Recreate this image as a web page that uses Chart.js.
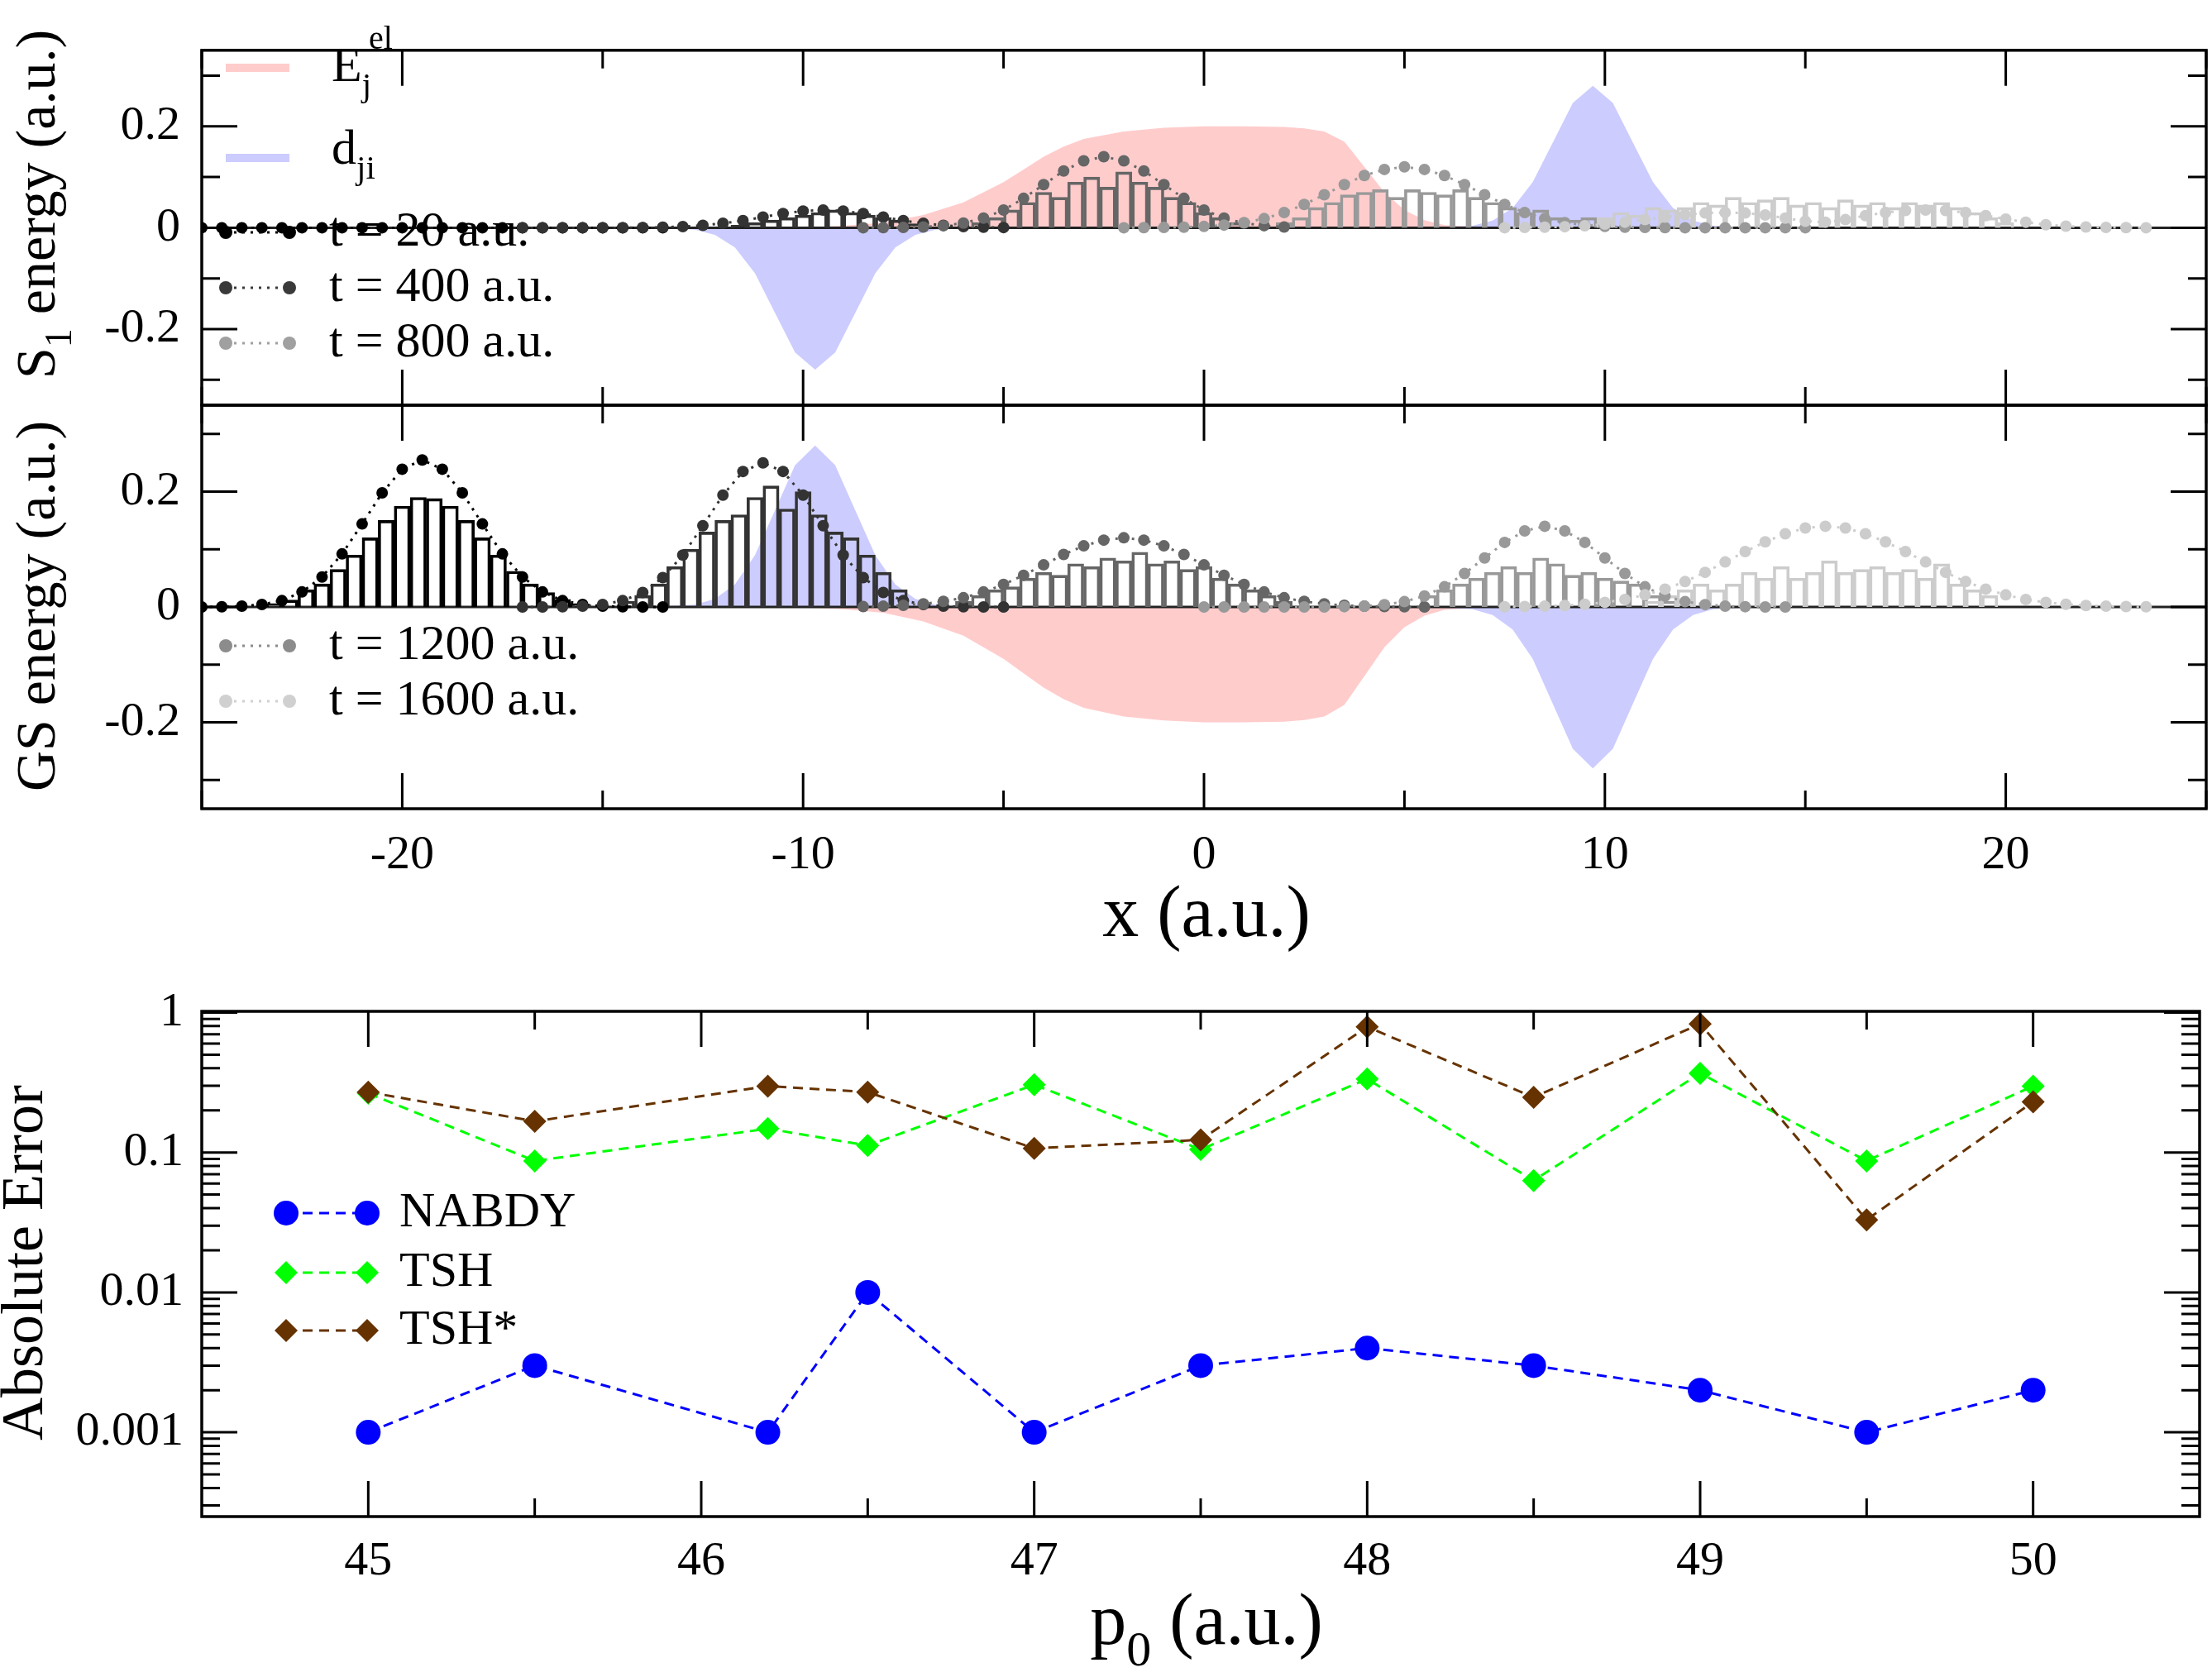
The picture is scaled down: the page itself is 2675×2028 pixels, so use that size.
<!DOCTYPE html>
<html>
<head>
<meta charset="utf-8">
<script src="https://cdn.jsdelivr.net/npm/chart.js@4.4.0/dist/chart.umd.min.js"></script>
<style>
  html, body { margin: 0; padding: 0; background: #fff; }
  #wrap { position: relative; width: 2675px; height: 2028px; }
  canvas { position: absolute; left: 0; top: 0; }
</style>
</head>
<body>
<div id="wrap">
  <canvas id="c1" width="2675" height="2028"></canvas>
  <canvas id="c2" width="2675" height="2028"></canvas>
  <canvas id="c3" width="2675" height="2028"></canvas>
</div>
<script>
// ---- panel data (x in a.u.) ----
const xTicks = [-20, -10, 0, 10, 20];
const xMinor = [-25, -15, -5, 5, 15, 25];
const yTicks = [-0.2, 0, 0.2];
const yMinor = [-0.3, -0.1, 0.1, 0.3];

// electronic energy difference (pink) and coupling (blue), S1 panel
const eX = [-25, -10, -9, -8, -7, -6, -5, -4.5, -4, -3.5, -3, -2, -1, 0, 1, 2, 2.5, 3, 3.5, 4, 4.5, 5, 5.5, 6, 7, 25];
const eY = [0, 0.001, 0.004, 0.01, 0.025, 0.05, 0.09, 0.115, 0.14, 0.16, 0.175, 0.19, 0.197, 0.2, 0.2, 0.199, 0.196, 0.19, 0.17, 0.12, 0.07, 0.035, 0.015, 0.005, 0.001, 0];
const dX = [-25, -13.7, -12.7, -12.2, -11.7, -11.2, -10.7, -10.2, -9.7, -9.2, -8.7, -8.2, -7.7, -7.2, -6.7, -5.7,
            5.7, 6.7, 7.2, 7.7, 8.2, 8.7, 9.2, 9.7, 10.2, 10.7, 11.2, 11.7, 12.2, 12.7, 13.7, 25];
const dY = [0, -0.0006, -0.004, -0.014, -0.039, -0.09, -0.168, -0.246, -0.28, -0.246, -0.168, -0.09, -0.039, -0.014, -0.004, -0.0006,
            0.0006, 0.004, 0.014, 0.039, 0.09, 0.168, 0.246, 0.28, 0.246, 0.168, 0.09, 0.039, 0.014, 0.004, 0.0006, 0];

const tColors = ["#000000", "#333333", "#666666", "#999999", "#cccccc"];
const legendColors = ["#000000", "#3a3a3a", "#a0a0a0", "#8c8c8c", "#d0d0d0"];

// S1 panel: dotted curves (start x, step 0.5) and histograms (start x, step 0.4)
const s1Start = [-25, -17, -8.5, -2, 7.5];
const s1Curve = [
  [0,0,0,0,0,0,0,0,0,0,0,0,0,0,0,0,0,0,0,0,0,0,0,0],
  [0,0,0,0,0,0,0.0004,0.001,0.0023,0.0047,0.0087,0.014,0.021,0.028,0.033,0.035,0.033,0.028,0.021,0.014,0.0087,0.0047,0.0023,0.001,0.0004],
  [0,0.0001,0.0005,0.0015,0.0041,0.0092,0.019,0.035,0.058,0.085,0.112,0.132,0.14,0.132,0.112,0.085,0.058,0.035,0.019,0.0092,0.0041,0.0015],
  [0,0.0002,0.0005,0.0011,0.0025,0.0053,0.01,0.018,0.03,0.046,0.065,0.085,0.103,0.115,0.12,0.115,0.103,0.085,0.065,0.046,0.03,0.018,0.01,0.0053,0.0025,0.0011,0.0005,0.0002,0,0,0,0,0,0,0],
  [0,0.0005,0.001,0.002,0.004,0.007,0.011,0.016,0.021,0.026,0.029,0.03,0.029,0.025,0.019,0.013,0.011,0.016,0.024,0.03,0.034,0.035,0.034,0.03,0.024,0.017,0.011,0.006,0.003,0.0015,0.0007,0.0003,0]
];
const s1HistStart = [null, -11.6, -5.6, 2, 10];
const s1Hist = [
  [],
  [0.005,0.01,0.015,0.02,0.025,0.03,0.035,0.03,0.025,0.02,0.015,0.008],
  [0.01,0.02,0.035,0.05,0.07,0.06,0.09,0.1,0.08,0.11,0.09,0.08,0.06,0.05,0.03,0.02,0.01],
  [0.01,0.02,0.04,0.05,0.065,0.07,0.075,0.06,0.075,0.07,0.065,0.075,0.06,0.05,0.04,0.03,0.035,0.02,0.015,0.02,0.01],
  [0.02,0.03,0.025,0.04,0.035,0.04,0.05,0.045,0.06,0.05,0.055,0.06,0.045,0.05,0.04,0.055,0.045,0.05,0.04,0.05,0.045,0.05,0.04,0.03,0.02,0.01]
];

// GS panel
const gsStart = [-25, -17, -8.5, 0, 7.5];
const gsCurve = [
  [0,0.0004,0.0015,0.0043,0.011,0.026,0.052,0.092,0.144,0.198,0.239,0.255,0.239,0.198,0.144,0.092,0.052,0.026,0.011,0.0043,0.0015,0.0004,0,0],
  [0,0,0.0004,0.0014,0.0043,0.011,0.025,0.051,0.09,0.141,0.194,0.235,0.25,0.235,0.194,0.141,0.09,0.051,0.025,0.011,0.0043,0.0014,0.0004,0,0],
  [0.0006,0.0013,0.0028,0.0053,0.0096,0.016,0.026,0.039,0.055,0.073,0.091,0.106,0.116,0.12,0.116,0.106,0.091,0.073,0.055,0.039,0.026,0.016,0.0096,0.0053,0.0028,0.0013,0.0006,0.0002,0],
  [0,0,0,0,0,0,0.0001,0.0005,0.0015,0.0041,0.0092,0.019,0.035,0.058,0.085,0.112,0.132,0.14,0.132,0.112,0.085,0.058,0.035,0.019,0.0092,0.0041,0.0015,0.0005,0.0001,0],
  [0.0003,0.0007,0.0013,0.0025,0.0046,0.008,0.013,0.021,0.031,0.044,0.06,0.078,0.096,0.113,0.127,0.137,0.14,0.137,0.127,0.113,0.096,0.078,0.06,0.044,0.031,0.021,0.013,0.008,0.0046,0.0025,0.0013,0.0007,0.0003]
];
const gsHistStart = [-23.2, -14.4, -6, 5.6, 11.2];
const gsHist = [
  [0.006,0.012,0.03,0.04,0.065,0.09,0.12,0.15,0.175,0.19,0.188,0.175,0.15,0.12,0.09,0.062,0.04,0.025,0.013,0.006],
  [0.01,0.02,0.04,0.07,0.1,0.13,0.15,0.16,0.19,0.21,0.17,0.2,0.16,0.13,0.12,0.09,0.06,0.03],
  [0.01,0.02,0.03,0.035,0.05,0.06,0.055,0.075,0.07,0.085,0.08,0.095,0.075,0.08,0.065,0.07,0.05,0.04,0.03,0.02,0.01],
  [0.02,0.03,0.04,0.05,0.06,0.07,0.06,0.085,0.075,0.055,0.06,0.05,0.045,0.04,0.02,0.01],
  [0.01,0.02,0.03,0.04,0.03,0.04,0.06,0.05,0.07,0.05,0.06,0.08,0.06,0.065,0.07,0.06,0.065,0.05,0.075,0.04,0.03,0.02]
];

// error panel
const p0 = [45, 45.5, 46.2, 46.5, 47, 47.5, 48, 48.5, 49, 49.5, 50];
const errNabdy = [0.001, 0.003, 0.001, 0.01, 0.001, 0.003, 0.004, 0.003, 0.002, 0.001, 0.002];
const errTsh = [0.265, 0.087, 0.148, 0.112, 0.305, 0.105, 0.335, 0.063, 0.368, 0.087, 0.298];
const errTshStar = [0.27, 0.167, 0.298, 0.27, 0.107, 0.123, 0.79, 0.248, 0.83, 0.033, 0.23];
const p0Ticks = [45, 46, 47, 48, 49, 50];
const p0Minor = [45.5, 46.5, 47.5, 48.5, 49.5];
const errTicks = [0.001, 0.01, 0.1, 1];
const errTickLabels = ["0.001", "0.01", "0.1", "1"];

const SERIF = "'Liberation Serif', 'DejaVu Serif', serif";
const PINK = "#ffcccc", BLUE = "#ccccff";
const TICK_FONT = 58;
Chart.defaults.font.family = SERIF;
Chart.defaults.color = "#000";

const xy = (xs, ys) => xs.map((x, i) => ({ x: x, y: ys[i] }));
const grid = (x0, step, ys) => ys.map((y, i) => ({ x: +(x0 + step * i).toFixed(2), y: y }));
const neg = (ys) => ys.map((v) => -v);

function panelDatasets(starts, curves, hStarts, hists, eSign) {
  const ds = [];
  ds.push({ type: "line", data: xy(eX, eSign > 0 ? eY : neg(eY)), fill: "origin", backgroundColor: PINK,
            borderWidth: 0, pointRadius: 0, order: 20 });
  ds.push({ type: "line", data: xy(dX, eSign > 0 ? dY : neg(dY)), fill: "origin", backgroundColor: BLUE,
            borderWidth: 0, pointRadius: 0, order: 19 });
  ds.push({ type: "line", data: [{ x: -25, y: 0 }, { x: 25, y: 0 }], borderColor: "#222", borderWidth: 3,
            pointRadius: 0, order: 15 });
  hists.forEach((h, i) => {
    if (!h.length) return;
    ds.push({ type: "bar", data: grid(hStarts[i], 0.4, h), grouped: false, barPercentage: 1, categoryPercentage: 1,
              backgroundColor: "rgba(0,0,0,0)", borderColor: tColors[i], borderWidth: 3, order: 10 - i });
  });
  curves.forEach((c, i) => {
    ds.push({ type: "line", data: grid(starts[i], 0.5, c), borderColor: tColors[i], borderWidth: 3,
              borderDash: [3, 7], pointRadius: 7, pointBackgroundColor: tColors[i], pointBorderWidth: 0,
              order: 5 - i });
  });
  return ds;
}

// inner tick marks, frame and free text
const deco = {
  id: "deco",
  afterDraw(chart, args, o) {
    const ctx = chart.ctx, a = chart.chartArea;
    const sx = chart.scales.x, sy = chart.scales.y;
    ctx.save();
    ctx.strokeStyle = "#000";
    ctx.lineWidth = 3;
    ctx.beginPath();
    const tick = (vals, len, scale, horiz) => vals.forEach((v) => {
      if (v < scale.min || v > scale.max) return;
      const p = scale.getPixelForValue(v);
      if (horiz) {
        ctx.moveTo(p, a.bottom); ctx.lineTo(p, a.bottom - len);
        ctx.moveTo(p, a.top); ctx.lineTo(p, a.top + len);
      } else {
        ctx.moveTo(a.left, p); ctx.lineTo(a.left + len, p);
        ctx.moveTo(a.right, p); ctx.lineTo(a.right - len, p);
      }
    });
    tick(o.xMajor, 43, sx, true); tick(o.xMinor, 22, sx, true);
    tick(o.yMajor, 43, sy, false); tick(o.yMinor, 22, sy, false);
    ctx.stroke();
    ctx.lineWidth = 3.5;
    ctx.strokeRect(a.left, a.top, a.right - a.left, a.bottom - a.top);
    ctx.restore();
    if (o.extra) o.extra(ctx);
  }
};

// rich text: parts [text, "n"|"sub"|"sup"]
function rich(ctx, parts, x, y, size, align, rotate) {
  ctx.save();
  ctx.translate(x, y);
  if (rotate) ctx.rotate(-Math.PI / 2);
  ctx.fillStyle = "#000";
  ctx.textBaseline = "middle";
  let w = 0;
  parts.forEach((p) => {
    ctx.font = (p[1] === "n" ? size : Math.round(size * 0.68)) + "px " + SERIF;
    w += ctx.measureText(p[0]).width;
  });
  let cx = align === "center" ? -w / 2 : 0;
  parts.forEach((p) => {
    const s = p[1] === "n" ? size : Math.round(size * 0.68);
    ctx.font = s + "px " + SERIF;
    const dy = p[1] === "sub" ? size * 0.38 : p[1] === "sup" ? -size * 0.42 : 0;
    ctx.textAlign = "left";
    ctx.fillText(p[0], cx, dy);
    cx += ctx.measureText(p[0]).width;
  });
  ctx.restore();
}

function dotItem(ctx, y, color, label) {
  ctx.save();
  ctx.strokeStyle = color; ctx.fillStyle = color; ctx.lineWidth = 3;
  ctx.setLineDash([3, 7]);
  ctx.beginPath(); ctx.moveTo(273, y); ctx.lineTo(350, y); ctx.stroke();
  [273, 350].forEach((x) => { ctx.beginPath(); ctx.arc(x, y, 8, 0, Math.PI * 2); ctx.fill(); });
  ctx.restore();
  rich(ctx, [[label, "n"]], 398, y, 60, "left");
}

function energyScales(showX) {
  return {
    x: { type: "linear", min: -25, max: 25, display: showX, offset: false,
         afterBuildTicks: (s) => { s.ticks = xTicks.map((v) => ({ value: v })); },
         afterFit: (s) => { s.height = showX ? 170 : 0; },
         ticks: { font: { size: TICK_FONT }, padding: 22, maxRotation: 0, callback: (v) => String(v) },
         grid: { display: false, drawTicks: false }, border: { display: false } },
    y: { type: "linear", min: -0.35, max: 0.35,
         afterBuildTicks: (s) => { s.ticks = yTicks.map((v) => ({ value: v })); },
         afterFit: (s) => { s.width = 244; },
         ticks: { font: { size: TICK_FONT }, padding: 26, callback: (v) => String(v) },
         grid: { display: false, drawTicks: false }, border: { display: false } }
  };
}

const baseOpts = { responsive: false, animation: false, devicePixelRatio: 1,
                   plugins: { legend: { display: false }, tooltip: { enabled: false } } };

// ---- S1 panel ----
new Chart(document.getElementById("c1"), {
  type: "scatter",
  data: { datasets: panelDatasets(s1Start, s1Curve, s1HistStart, s1Hist, 1) },
  options: Object.assign({}, baseOpts, {
    layout: { padding: { top: 3, right: 3, left: 0, bottom: 2028 - 490 } },
    scales: energyScales(false),
    plugins: Object.assign({}, baseOpts.plugins, {
      deco: { xMajor: xTicks, xMinor: xMinor, yMajor: yTicks, yMinor: yMinor,
        extra: (ctx) => {
          ctx.save();
          ctx.lineWidth = 10;
          ctx.strokeStyle = PINK; ctx.beginPath(); ctx.moveTo(273, 82); ctx.lineTo(350, 82); ctx.stroke();
          ctx.strokeStyle = BLUE; ctx.beginPath(); ctx.moveTo(273, 191); ctx.lineTo(350, 191); ctx.stroke();
          ctx.restore();
          rich(ctx, [["E", "n"], ["j", "sub"]], 401, 82, 60, "left");
          rich(ctx, [["el", "n"]], 446, 48, 40, "left");
          rich(ctx, [["d", "n"], ["ji", "sub"]], 401, 182, 60, "left");
          dotItem(ctx, 281, legendColors[0], "t = 20 a.u.");
          dotItem(ctx, 348, legendColors[1], "t = 400 a.u.");
          dotItem(ctx, 415, legendColors[2], "t = 800 a.u.");
          rich(ctx, [["S", "n"], ["1", "sub"], [" energy (a.u.)", "n"]], 48, 247, 68, "center", true);
        } }
    })
  }),
  plugins: [deco]
});

// ---- GS panel ----
new Chart(document.getElementById("c2"), {
  type: "scatter",
  data: { datasets: panelDatasets(gsStart, gsCurve, gsHistStart, gsHist, -1) },
  options: Object.assign({}, baseOpts, {
    layout: { padding: { top: 490, right: 3, left: 0, bottom: 2028 - 978 - 170 } },
    scales: energyScales(true),
    plugins: Object.assign({}, baseOpts.plugins, {
      deco: { xMajor: xTicks, xMinor: xMinor, yMajor: yTicks, yMinor: yMinor,
        extra: (ctx) => {
          dotItem(ctx, 781, legendColors[3], "t = 1200 a.u.");
          dotItem(ctx, 848, legendColors[4], "t = 1600 a.u.");
          rich(ctx, [["GS energy (a.u.)", "n"]], 48, 733, 68, "center", true);
          rich(ctx, [["x (a.u.)", "n"]], 1459, 1109, 88, "center");
        } }
    })
  }),
  plugins: [deco]
});

// ---- error panel ----
const errSeries = [
  { label: "NABDY", data: errNabdy, color: "#0000ff", style: "circle", r: 15 },
  { label: "TSH", data: errTsh, color: "#00ff00", style: "rectRot", r: 14 },
  { label: "TSH*", data: errTshStar, color: "#663300", style: "rectRot", r: 14 }
];
const logMinor = [];
[0.0001, 0.001, 0.01, 0.1].forEach((d) => { for (let k = 2; k <= 9; k++) logMinor.push(+(d * k).toPrecision(3)); });

new Chart(document.getElementById("c3"), {
  type: "scatter",
  data: {
    datasets: errSeries.map((s, i) => ({
      type: "line", data: xy(p0, s.data), borderColor: s.color, borderWidth: 3, borderDash: [12, 8],
      pointStyle: s.style, pointRadius: s.r, pointBackgroundColor: s.color, pointBorderColor: s.color,
      pointBorderWidth: 0, order: 3 - i
    }))
  },
  options: Object.assign({}, baseOpts, {
    layout: { padding: { top: 1223, right: 3, left: 0, bottom: 2028 - 1834 - 190 } },
    scales: {
      x: { type: "linear", min: 44.5, max: 50.5, offset: false,
           afterBuildTicks: (s) => { s.ticks = p0Ticks.map((v) => ({ value: v })); },
           afterFit: (s) => { s.height = 190; },
           ticks: { font: { size: TICK_FONT }, padding: 20, maxRotation: 0, callback: (v) => String(v) },
           grid: { display: false, drawTicks: false }, border: { display: false } },
      y: { type: "logarithmic", min: 0.00025, max: 1.02,
           afterBuildTicks: (s) => { s.ticks = errTicks.map((v) => ({ value: v })); },
           afterFit: (s) => { s.width = 244; },
           ticks: { font: { size: TICK_FONT }, padding: 22,
                    callback: (v) => { const i = errTicks.findIndex((t) => Math.abs(t - v) / t < 1e-6); return i < 0 ? "" : errTickLabels[i]; } },
           grid: { display: false, drawTicks: false }, border: { display: false } }
    },
    plugins: Object.assign({}, baseOpts.plugins, {
      deco: { xMajor: p0Ticks, xMinor: p0Minor, yMajor: errTicks, yMinor: logMinor,
        extra: (ctx) => {
          const ys = [1467, 1539, 1609];
          errSeries.forEach((s, i) => {
            const y = ys[i];
            ctx.save();
            ctx.strokeStyle = s.color; ctx.fillStyle = s.color; ctx.lineWidth = 3; ctx.setLineDash([12, 8]);
            ctx.beginPath(); ctx.moveTo(346, y); ctx.lineTo(444, y); ctx.stroke();
            [346, 444].forEach((x) => {
              ctx.beginPath();
              if (s.style === "circle") ctx.arc(x, y, s.r, 0, Math.PI * 2);
              else { ctx.moveTo(x, y - s.r); ctx.lineTo(x + s.r, y); ctx.lineTo(x, y + s.r); ctx.lineTo(x - s.r, y); ctx.closePath(); }
              ctx.fill();
            });
            ctx.restore();
            rich(ctx, [[s.label, "n"]], 483, y, 60, "left");
          });
          rich(ctx, [["Absolute Error", "n"]], 32, 1527, 72, "center", true);
          rich(ctx, [["p", "n"], ["0", "sub"], [" (a.u.)", "n"]], 1459, 1965, 88, "center");
        } }
    })
  }),
  plugins: [deco]
});
</script>
</body>
</html>
